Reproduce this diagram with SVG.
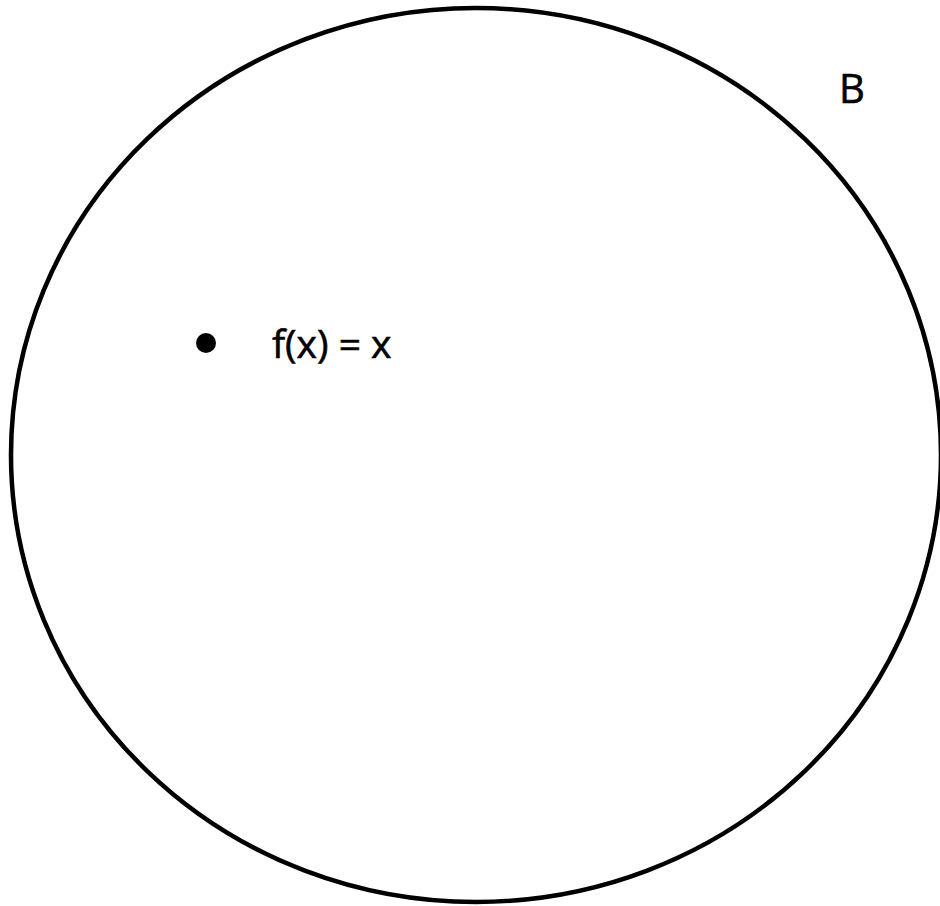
<svg xmlns="http://www.w3.org/2000/svg" width="940" height="906" viewBox="0 0 940 906">
<style>
text{font-family:"Open Sans","Noto Sans",sans-serif;fill:#000;stroke:#000;stroke-width:0.6}
</style>
<rect width="940" height="906" fill="#fff"/>
<g id="set-B">
<ellipse cx="476" cy="455" rx="465" ry="447" fill="none" stroke="#000" stroke-width="4.5"/>
<text x="839" y="103" font-size="40">B</text>
</g>
<g id="point">
<circle cx="206" cy="343" r="10" fill="#000"/>
<text x="272" y="358" font-size="39">f(x) = x</text>
</g>
<g id="connectors"/>
</svg>
